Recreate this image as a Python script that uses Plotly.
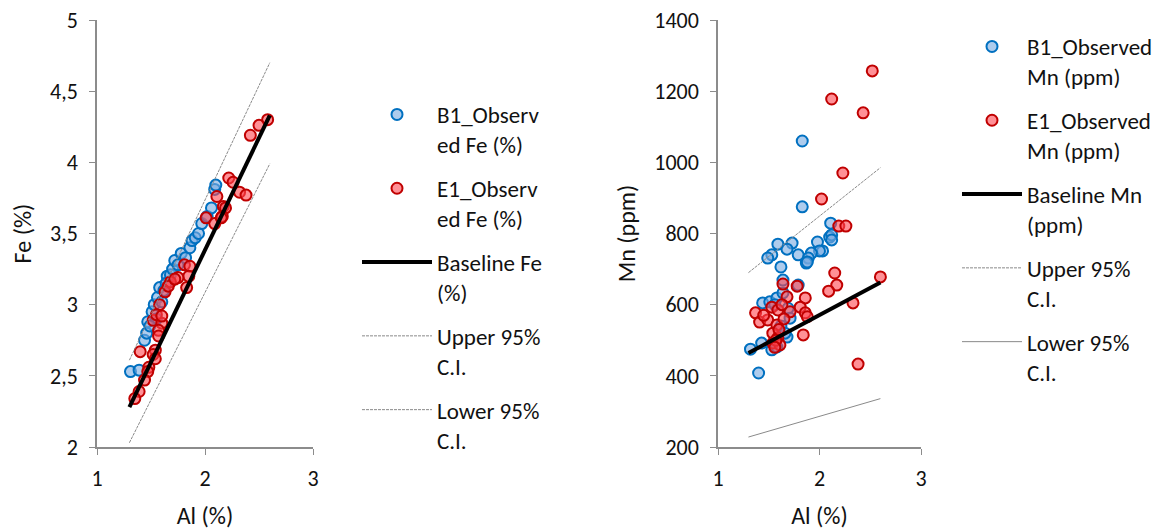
import plotly.graph_objects as go

W, H = 1163, 531

# ---------------- Fe vs Al data ----------------
al_b1_fe = [1.31, 1.39, 1.44, 1.46, 1.47, 1.51, 1.53, 1.56, 1.58, 1.62, 1.65, 1.68, 1.70, 1.72, 1.75,
            1.78, 1.82, 1.86, 1.88, 1.91, 1.94, 1.97, 2.02, 2.06, 2.09, 2.10, 1.55, 1.60, 1.49, 1.64]
fe_b1 = [2.53, 2.54, 2.75, 2.80, 2.88, 2.95, 3.00, 3.05, 3.12, 3.10, 3.20, 3.21, 3.25, 3.31, 3.28,
         3.36, 3.33, 3.40, 3.45, 3.47, 3.50, 3.57, 3.62, 3.68, 3.81, 3.84, 2.90, 3.02, 2.85, 3.15]

al_e1_fe = [2.58, 2.50, 2.42, 2.22, 2.26, 2.32, 2.38, 2.11, 2.17, 2.19, 2.01, 2.16, 2.09, 2.15,
            1.81, 1.86, 1.85, 1.75, 1.68, 1.83, 1.63, 1.58, 1.52, 1.60, 1.57, 1.40, 1.54, 1.52,
            1.48, 1.47, 1.44, 1.39, 1.35, 1.55, 1.57, 1.60, 1.54, 1.66, 1.72]
fe_e1 = [4.30, 4.26, 4.19, 3.89, 3.86, 3.79, 3.77, 3.76, 3.69, 3.68, 3.61, 3.62, 3.57, 3.61,
         3.28, 3.27, 3.20, 3.19, 3.16, 3.12, 3.09, 3.00, 2.89, 2.87, 2.82, 2.67, 2.68, 2.65,
         2.56, 2.53, 2.47, 2.39, 2.34, 2.93, 2.78, 2.92, 2.62, 3.13, 3.18]

al_line = [1.3, 2.6]
fe_base = [2.28, 4.33]
fe_upper = [2.61, 4.70]
fe_lower = [2.03, 3.99]

# ---------------- Mn vs Al data ----------------
al_b1_mn = [1.83, 1.83, 2.11, 2.10, 2.12, 2.12, 1.98, 2.03, 2.00, 1.92, 1.89, 1.87, 1.79, 1.73,
            1.59, 1.68, 1.53, 1.49, 1.62, 1.88, 1.79, 1.64, 1.44, 1.51, 1.58, 1.64, 1.69, 1.71,
            1.68, 1.53, 1.58, 1.32, 1.43, 1.40, 1.62, 1.66, 1.56]
mn_b1 = [1060, 875, 829, 790, 796, 782, 776, 751, 751, 745, 731, 717, 740, 773,
         770, 756, 740, 731, 706, 720, 655, 669, 605, 608, 619, 633, 590, 562,
         509, 473, 481, 475, 492, 408, 540, 520, 600]

al_e1_mn = [2.52, 2.12, 2.43, 2.23, 2.02, 2.19, 2.26, 1.64, 1.78, 1.68, 1.86, 2.15, 2.17, 2.09,
            2.33, 1.37, 1.41, 1.53, 1.59, 1.71, 1.81, 1.86, 1.88, 1.49, 1.58, 1.54, 1.59, 1.54,
            1.61, 1.84, 2.38, 2.60, 1.63, 1.65, 1.57, 1.60, 1.45, 1.56]
mn_e1 = [1257, 1178, 1139, 970, 897, 821, 821, 658, 652, 622, 619, 689, 655, 638,
         605, 577, 551, 593, 585, 580, 593, 577, 566, 557, 543, 520, 507, 492,
         487, 515, 433, 678, 600, 560, 500, 530, 570, 480]

mn_base = [464, 662]
mn_upper = [690, 985]
mn_lower = [228, 336]

FONT = "Calibri, Carlito, Lato, sans-serif"
TXT = "#111111"
blue_fill, blue_line = "rgba(120,170,225,0.6)", "#0070C0"
red_fill, red_line = "rgba(255,70,80,0.6)", "#C00000"
ci_color = "#8a8a8a"

fig = go.Figure()

def add_set(xb, yb, xe, ye, ybase, yup, ylo, names, xa, ya, leg, lower_dash):
    fig.add_trace(go.Scatter(x=xb, y=yb, mode="markers", name=names[0],
                             marker=dict(size=11, color=blue_fill, line=dict(color=blue_line, width=2)),
                             xaxis=xa, yaxis=ya, legend=leg, legendgroup=leg + "a"))
    fig.add_trace(go.Scatter(x=xe, y=ye, mode="markers", name=names[1],
                             marker=dict(size=11, color=red_fill, line=dict(color=red_line, width=2)),
                             xaxis=xa, yaxis=ya, legend=leg, legendgroup=leg + "b"))
    fig.add_trace(go.Scatter(x=al_line, y=ybase, mode="lines", name=names[2],
                             line=dict(color="black", width=4),
                             xaxis=xa, yaxis=ya, legend=leg, legendgroup=leg + "c"))
    fig.add_trace(go.Scatter(x=al_line, y=yup, mode="lines", name=names[3],
                             line=dict(color=ci_color, width=1, dash="3px,1px"),
                             xaxis=xa, yaxis=ya, legend=leg, legendgroup=leg + "d"))
    fig.add_trace(go.Scatter(x=al_line, y=ylo, mode="lines", name=names[4],
                             line=dict(color=ci_color, width=1, dash=lower_dash),
                             xaxis=xa, yaxis=ya, legend=leg, legendgroup=leg + "e"))

add_set(al_b1_fe, fe_b1, al_e1_fe, fe_e1, fe_base, fe_upper, fe_lower,
        ["B1_Observ<br>ed Fe (%)", "E1_Observ<br>ed Fe (%)", "Baseline Fe<br>(%)",
         "Upper 95%<br>C.I.", "Lower 95%<br>C.I."], "x", "y", "legend", "3px,1px")
add_set(al_b1_mn, mn_b1, al_e1_mn, mn_e1, mn_base, mn_upper, mn_lower,
        ["B1_Observed<br>Mn (ppm)", "E1_Observed<br>Mn (ppm)", "Baseline Mn<br>(ppm)",
         "Upper 95%<br>C.I.", "Lower 95%<br>C.I."], "x2", "y2", "legend2", "solid")

axis_common = dict(showline=True, linecolor="#8c8c8c", linewidth=1.5, ticks="outside",
                   ticklen=6, tickcolor="#8c8c8c", showgrid=False, zeroline=False,
                   automargin=False,
                   tickfont=dict(family=FONT, size=22, color=TXT),
                   title_font=dict(family=FONT, size=24, color=TXT))

ytop, ybot = 1 - 20 / H, 1 - 447 / H

fig.update_layout(
    width=W, height=H, margin=dict(l=0, r=0, t=0, b=0), autosize=False,
    paper_bgcolor="white", plot_bgcolor="white",
    font=dict(family=FONT, size=22, color=TXT),
    xaxis=dict(domain=[97 / W, 313 / W], range=[1, 3], tickvals=[1, 2, 3], anchor="y",
               ticklabelstandoff=5, title=dict(text="Al (%)", standoff=16), **axis_common),
    yaxis=dict(domain=[ybot, ytop], range=[2, 5], anchor="x",
               tickvals=[2, 2.5, 3, 3.5, 4, 4.5, 5],
               ticktext=["2", "2,5", "3", "3,5", "4", "4,5", "5"], ticklabelstandoff=7,
               title=dict(text="Fe (%)", standoff=12), **axis_common),
    xaxis2=dict(domain=[718 / W, 921 / W], range=[1, 3], tickvals=[1, 2, 3], anchor="y2",
                ticklabelstandoff=5, title=dict(text="Al (%)", standoff=16), **axis_common),
    yaxis2=dict(domain=[ybot, ytop], range=[200, 1400], anchor="x2",
                tickvals=[200, 400, 600, 800, 1000, 1200, 1400], ticklabelstandoff=7,
                title=dict(text="Mn (ppm)", standoff=12), **axis_common),
    legend=dict(x=357 / W, y=1 - 93 / H, xanchor="left", yanchor="top",
                font=dict(family=FONT, size=23, color=TXT), valign="top",
                itemwidth=70, tracegroupgap=11, bgcolor="rgba(0,0,0,0)"),
    legend2=dict(x=957 / W, y=1 - 25 / H, xanchor="left", yanchor="top",
                 font=dict(family=FONT, size=23, color=TXT), valign="top",
                 itemwidth=60, tracegroupgap=11, bgcolor="rgba(0,0,0,0)"),
)

fig.write_html("out.html")
